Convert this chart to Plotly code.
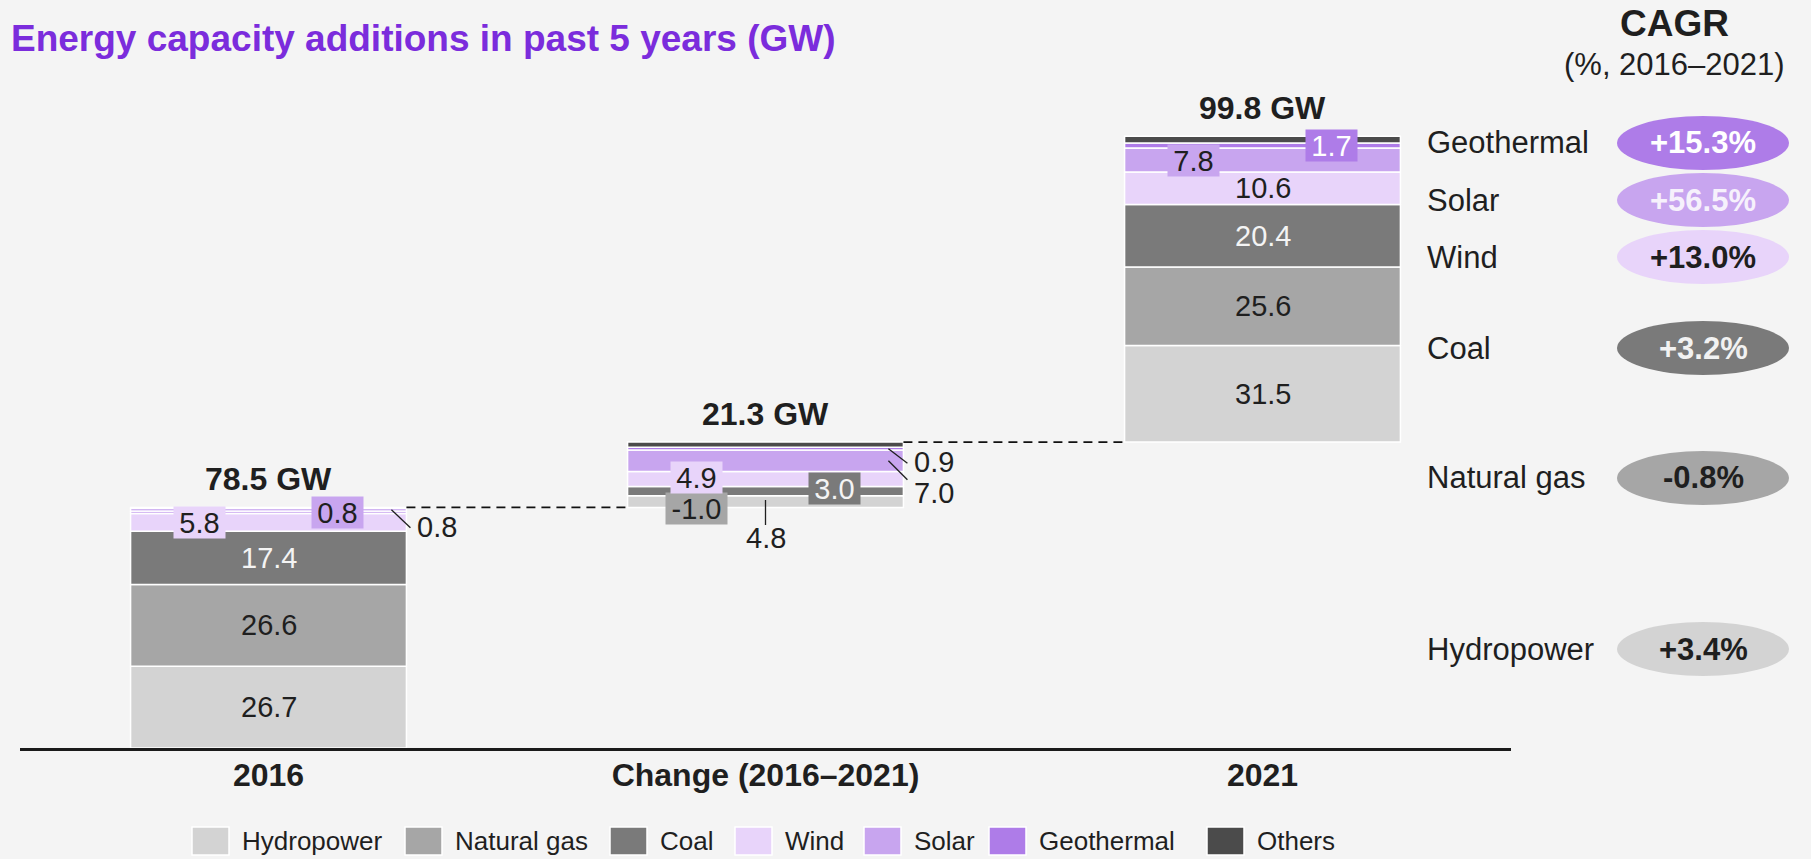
import plotly.graph_objects as go

# ---------------- data ----------------
categories = ["2016", "Change (2016–2021)", "2021"]
series = ["Hydropower", "Natural gas", "Coal", "Wind", "Solar", "Geothermal", "Others"]
values_2016 = [26.7, 26.6, 17.4, 5.8, 0.8, 0.8, 0.4]
values_change = [4.8, -1.0, 3.0, 4.9, 7.0, 0.9, 1.7]
values_2021 = [31.5, 25.6, 20.4, 10.6, 7.8, 1.7, 2.2]
totals = [78.5, 21.3, 99.8]
cagr_series = ["Geothermal", "Solar", "Wind", "Coal", "Natural gas", "Hydropower"]
cagr_values = [15.3, 56.5, 13.0, 3.2, -0.8, 3.4]

# ---------------- style ----------------
FONT = "Liberation Sans, Arial, Helvetica, sans-serif"
DARK = "#1f1f1f"
LIGHT = "#f4f4f4"
BG = "#f4f4f4"
PURPLE = "#7b2cdc"
colors = {
    "Hydropower": "#d3d3d3",
    "Natural gas": "#a6a6a6",
    "Coal": "#7a7a7a",
    "Wind": "#e8d4fa",
    "Solar": "#c8a5ef",
    "Geothermal": "#ae7ce8",
    "Others": "#4b4b4b",
}
pill_text_colors = {
    "Geothermal": "#ffffff", "Solar": "#f6f1fc", "Wind": DARK,
    "Coal": "#f2f2f2", "Natural gas": DARK, "Hydropower": DARK,
}

FIG_W, FIG_H = 1811, 859
M_L, M_R, M_T, M_B = 20, 300, 100, 111
PW, PH = FIG_W - M_L - M_R, FIG_H - M_T - M_B
Y_MAX = 211.4
BAR_W = 0.555
LBL = 29

# label placement per (column, series)
label_spec = {
    (0, "Hydropower"): dict(mode="in", color=DARK),
    (0, "Natural gas"): dict(mode="in", color=DARK),
    (0, "Coal"): dict(mode="in", color=LIGHT),
    (0, "Wind"): dict(mode="box", side=-1, color=DARK, dy=0),
    (0, "Solar"): dict(mode="box", side=1, color=DARK, dy=0),
    (0, "Geothermal"): dict(mode="out", end_dy=18, text_dy=17),
    (1, "Hydropower"): dict(mode="below", end_dy=25, text_dy=38),
    (1, "Natural gas"): dict(mode="box", side=-1, color=DARK, dy=14.5),
    (1, "Coal"): dict(mode="box", side=1, color=LIGHT, dy=-2.5),
    (1, "Wind"): dict(mode="box", side=-1, color=DARK, dy=-2),
    (1, "Solar"): dict(mode="out", end_dy=19, text_dy=32.7),
    (1, "Geothermal"): dict(mode="out", end_dy=14.5, text_dy=13.5),
    (2, "Hydropower"): dict(mode="in", color=DARK),
    (2, "Natural gas"): dict(mode="in", color=DARK),
    (2, "Coal"): dict(mode="in", color=LIGHT),
    (2, "Wind"): dict(mode="in", color=DARK),
    (2, "Solar"): dict(mode="box", side=-1, color=DARK, dy=0),
    (2, "Geothermal"): dict(mode="box", side=1, color="#ffffff", dy=0),
}

PILL_Y = [143, 200, 257, 348, 478, 649]
PILL_CX, PILL_W, PILL_H = 1703, 172, 54
CAGR_LABEL_X = 1425
LEGEND_X = [192, 405, 610, 735, 864, 989, 1207]
LEGEND_Y, SW_W, SW_H = 841, 37, 28


def px_x(p):
    return (p - M_L) / PW


def px_y(p):
    return (M_T + PH - p) / PH


def text_w(s, size):
    w = {".": 0.278, "-": 0.333}
    return sum(w.get(c, 0.556) for c in s) * size


def paper_text(x, y, text, size, color=DARK, xanchor="center"):
    return dict(x=px_x(x), y=px_y(y), xref="paper", yref="paper", xanchor=xanchor,
                yanchor="middle", showarrow=False, text=text,
                font=dict(family=FONT, size=size, color=color))


# ---------------- geometry from data ----------------
columns = [values_2016, values_change, values_2021]
col_start = [0.0, totals[0], totals[0] + totals[1]]
bases = []
for c, vals in enumerate(columns):
    run = col_start[c]
    b = []
    for v in vals:
        b.append(run)
        run += v
    bases.append(b)

fig = go.Figure()
for i, s in enumerate(series):
    fig.add_trace(go.Bar(
        x=[0, 1, 2],
        y=[columns[c][i] for c in range(3)],
        base=[bases[c][i] for c in range(3)],
        width=BAR_W,
        name=s,
        marker=dict(color=colors[s], line=dict(color="white", width=1.5)),
        showlegend=False,
        hovertemplate=s + ": %{y} GW<extra></extra>",
    ))

annotations = []
shapes = []

# segment labels
for (c, s), spec in label_spec.items():
    i = series.index(s)
    v = columns[c][i]
    center = bases[c][i] + v / 2
    txt = f"{v:.1f}"
    mode = spec["mode"]
    common = dict(xref="x", yref="y", showarrow=False, yanchor="middle")
    if mode == "in":
        annotations.append(dict(x=c, y=center, text=txt, xanchor="center",
                                font=dict(family=FONT, size=LBL, color=spec["color"]), **common))
    elif mode == "box":
        annotations.append(dict(x=c + spec["side"] * BAR_W / 4, y=center, xanchor="center",
                                text=txt, yshift=-spec["dy"],
                                bgcolor=colors[s], borderpad=0,
                                width=round(text_w(txt, LBL) + 11), height=31,
                                font=dict(family=FONT, size=LBL, color=spec["color"]), **common))
    elif mode == "out":
        xr = c + BAR_W / 2
        shapes.append(dict(type="line", xref="x", yref="y", xsizemode="pixel", ysizemode="pixel",
                           xanchor=xr, yanchor=center, x0=-15, x1=4, y0=0, y1=-spec["end_dy"],
                           line=dict(color=DARK, width=1.3)))
        annotations.append(dict(x=xr, y=center, text=txt,
                                xanchor="left", xshift=9, yshift=-spec["text_dy"],
                                font=dict(family=FONT, size=LBL, color=DARK), **common))
    elif mode == "below":
        shapes.append(dict(type="line", xref="x", yref="y", xsizemode="pixel", ysizemode="pixel",
                           xanchor=c, yanchor=center, x0=0, x1=0, y0=0, y1=-spec["end_dy"],
                           line=dict(color=DARK, width=1.3)))
        annotations.append(dict(x=c, y=center, text=txt, xanchor="center",
                                yshift=-spec["text_dy"],
                                font=dict(family=FONT, size=LBL, color=DARK), **common))

# totals
for c, t in enumerate(totals):
    annotations.append(dict(x=c, y=col_start[c] + t, xref="x", yref="y", text=f"<b>{t:.1f} GW</b>",
                            showarrow=False, xanchor="center", yanchor="bottom", yshift=8,
                            font=dict(family=FONT, size=32, color=DARK)))

# dashed connectors
for c in range(2):
    lvl = col_start[c + 1]
    shapes.append(dict(type="line", xref="x", yref="y", x0=c + BAR_W / 2, x1=c + 1 - BAR_W / 2,
                       y0=lvl, y1=lvl, line=dict(color="#111111", width=1.8, dash="9px,6px")))

# title
annotations.append(paper_text(9, 38.5, "<b>Energy capacity additions in past 5 years (GW)</b>",
                              37, PURPLE, xanchor="left"))

# CAGR header
annotations.append(paper_text(1675, 23.5, "<b>CAGR</b>", 37))
annotations.append(paper_text(1675, 64.5, "(%, 2016–2021)", 31))

# CAGR pills
for s, v, py in zip(cagr_series, cagr_values, PILL_Y):
    shapes.append(dict(type="circle", xref="paper", yref="paper",
                       x0=px_x(PILL_CX - PILL_W / 2), x1=px_x(PILL_CX + PILL_W / 2),
                       y0=px_y(py + PILL_H / 2), y1=px_y(py - PILL_H / 2),
                       fillcolor=colors[s], line=dict(width=0)))
    annotations.append(paper_text(PILL_CX, py, f"<b>{v:+.1f}%</b>", 31, pill_text_colors[s]))
    annotations.append(paper_text(CAGR_LABEL_X, py, s, 31, DARK, xanchor="left"))

# legend
for s, lx in zip(series, LEGEND_X):
    shapes.append(dict(type="rect", xref="paper", yref="paper",
                       x0=px_x(lx), x1=px_x(lx + SW_W),
                       y0=px_y(LEGEND_Y + SW_H / 2), y1=px_y(LEGEND_Y - SW_H / 2),
                       fillcolor=colors[s], line=dict(color="white", width=1.5)))
    annotations.append(paper_text(lx + SW_W + 11, LEGEND_Y, s, 26, DARK, xanchor="left"))

fig.update_layout(
    width=FIG_W, height=FIG_H,
    margin=dict(l=M_L, r=M_R, t=M_T, b=M_B, autoexpand=False),
    paper_bgcolor=BG, plot_bgcolor=BG,
    barmode="overlay",
    showlegend=False,
    font=dict(family=FONT, color=DARK),
    annotations=annotations,
    shapes=shapes,
    xaxis=dict(range=[-0.5, 2.5], tickvals=[0, 1, 2],
               ticktext=[f"<b>{c}</b>" for c in categories],
               tickfont=dict(family=FONT, size=32, color=DARK),
               showline=True, linecolor="#1a1a1a", linewidth=2.5,
               showgrid=False, zeroline=False, ticks="", ticklabelstandoff=-3,
               fixedrange=True),
    yaxis=dict(range=[0, Y_MAX], visible=False, showgrid=False, zeroline=False, fixedrange=True),
)

fig.write_html(
    "out.html",
    config={"displayModeBar": False},
    post_script="document.body.style.margin='0';document.body.style.background='#f4f4f4';",
)
